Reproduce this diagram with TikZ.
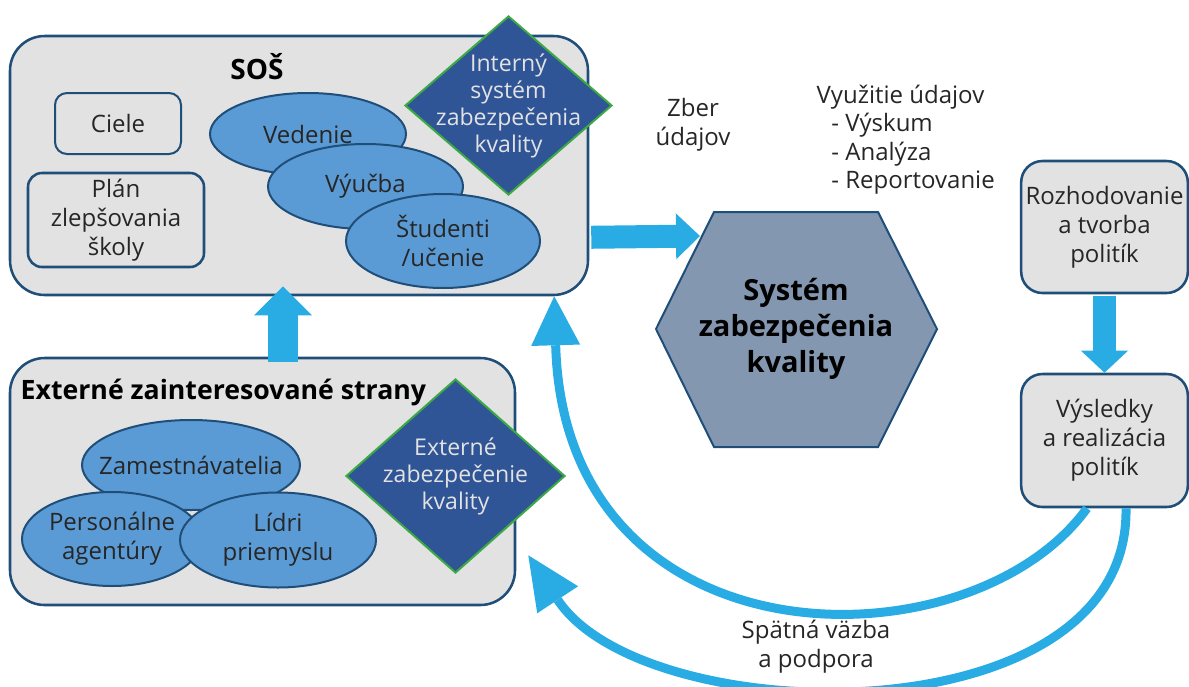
\documentclass[tikz,border=0pt]{standalone}
\usepackage{fontspec}
\setmainfont{Open Sans}
\usetikzlibrary{shapes.geometric, arrows.meta, calc}

\definecolor{boxgray}{HTML}{E2E2E2}
\definecolor{darkline}{HTML}{1F4E79}
\definecolor{ellblue}{HTML}{5B9BD5}
\definecolor{diamblue}{HTML}{2F5597}
\definecolor{diamgreen}{HTML}{3CA945}
\definecolor{hexgray}{HTML}{8497B0}
\definecolor{flowblue}{HTML}{29ACE3}
\definecolor{textgray}{HTML}{262626}

\begin{document}
\begin{tikzpicture}[x=0.75pt, y=-0.75pt,
	every node/.style={align=center, text=textgray, font=\fontsize{18}{21.75}\selectfont},
	bigbox/.style={draw=darkline, line width=1.9pt, fill=boxgray, rounded corners=26pt, inner sep=0pt},
	smallbox/.style={draw=darkline, line width=1.5pt, fill=boxgray, rounded corners=9pt, inner sep=0pt},
	sidebox/.style={draw=darkline, line width=1.9pt, fill=boxgray, rounded corners=16pt, inner sep=0pt, minimum width=125pt},
	blob/.style={ellipse, draw=darkline, line width=1.5pt, fill=ellblue, inner sep=0pt},
	qual/.style={diamond, draw=diamgreen, line width=1.5pt, fill=diamblue, inner sep=0pt},
	qualtext/.style={text=boxgray, font=\fontsize{17.3}{20.25}\selectfont, align=center},
	title/.style={text=black, font=\fontsize{20}{24}\selectfont\bfseries},
	block/.style={draw=flowblue, line width=17.25pt},
	loopback/.style={draw=flowblue, line width=6.75pt}
	]
	
	\useasboundingbox (0,0) rectangle (1189,686);
	
	% School box
	\node[bigbox, minimum width=433.5pt, minimum height=194.25pt] (sos) at (299,165.5) {};
	\node[title, font=\fontsize{21}{24}\selectfont\bfseries] (sostitle) at (257,67) {SOŠ};
	\node[smallbox, minimum width=94.5pt, minimum height=45.75pt] (ciele) at (118,123.5) {Ciele};
	\node[smallbox, line width=1.9pt, rounded corners=10.5pt, minimum width=132pt, minimum height=70.5pt] (plan) at (116,220) {Plán\\zlepšovania\\školy};
	\node[blob, minimum width=147pt, minimum height=61.5pt] (vedenie) at (308,134) {Vedenie};
	\node[blob, minimum width=146.25pt, minimum height=63.75pt] (vyucba) at (365.5,186.5) {Výučba};
	\node[blob, minimum width=145.5pt, minimum height=70.5pt] (studenti) at (443,241) {Študenti\\/učenie};
	\node[qual, minimum width=155.25pt, minimum height=134.25pt, label={[qualtext]center:Interný\\systém\\zabezpečenia\\kvality}] (intqa) at (508.5,105.5) {};
	
	% Stakeholder box
	\node[bigbox, minimum width=378.75pt, minimum height=185.25pt] (ext) at (262.5,481.5) {};
	\node[title, anchor=west] (exttitle) at (16,392) {Externé zainteresované strany};
	\node[blob, inner xsep=-12pt, minimum width=163.5pt, minimum height=67.5pt] (zamest) at (191,465) {Zamestnávatelia};
	\node[blob, inner xsep=-2pt, minimum width=135pt, minimum height=70.5pt] (agentury) at (112,539) {Personálne\\agentúry};
	\node[blob, minimum width=147pt, minimum height=71.25pt] (lidri) at (278,540) {Lídri\\priemyslu};
	\node[qual, minimum width=164.25pt, minimum height=145.5pt, label={[qualtext]center:Externé\\zabezpečenie\\kvality}] (extqa) at (455.5,476) {};
	
	% Quality system
	\fill[hexgray, draw=darkline, line width=1.5pt] (656,329) -- (714,212) -- (878,212) -- (937,329) -- (878,447) -- (714,447) -- cycle;
	\node[text=black, font=\fontsize{21.8}{27}\selectfont\bfseries] (sys) at (796,328.5) {Systém\\zabezpečenia\\kvality};
	\coordinate (sysin) at (700,236);
	
	% Labels in the middle
	\node (zber) at (693,124.5) {Zber\\údajov};
	\node[align=left, anchor=west, font=\fontsize{18}{21.4}\selectfont] (vyuzitie) at (812,139.5) {Využitie údajov\\\hspace*{11pt}- Výskum\\\hspace*{11pt}- Analýza\\\hspace*{11pt}- Reportovanie};
	\node (spatna) at (816,647) {Spätná väzba\\a podpora};
	
	% Right side nodes
	\node[sidebox, minimum height=99pt] (rozhod) at (1104.5,227) {Rozhodovanie\\a tvorba\\politík};
	\node[sidebox, minimum height=99.75pt] (vysledky) at (1104.5,440.5) {Výsledky\\a realizácia\\politík};
	
	% Block arrows
	\draw[block, line width=22.5pt, -{Triangle[width=43.5pt, length=21.75pt, line width=0pt]}] ($(ext.north)+(20.5,5)$) -- ($(sos.south)+(-16,-10)$);
	\draw[block, -{Triangle[width=34.5pt, length=18pt, line width=0pt]}] ($(sos.south east)+(2,-59)$) -- (sysin);
	\draw[block, -{Triangle[width=35.25pt, length=16.5pt, line width=0pt]}] ($(rozhod.south)+(0,2)$) -- (vysledky.north);
	
	% Feedback arrows
	\draw[loopback, -{Triangle[width=36.75pt, length=36.75pt, line width=0pt]}] ($(vysledky.south)+(-17.5,0)$) .. controls (970,670) and (565,670) .. ($(sos.south east)+(-35,0)$);
	\draw[loopback, -{Triangle[width=36.75pt, length=40pt, line width=0pt]}] ($(vysledky.south)+(21.5,0)$) .. controls (1130,740) and (645,732) .. ($(ext.south east)+(12,-51)$);
	
\end{tikzpicture}
\end{document}
